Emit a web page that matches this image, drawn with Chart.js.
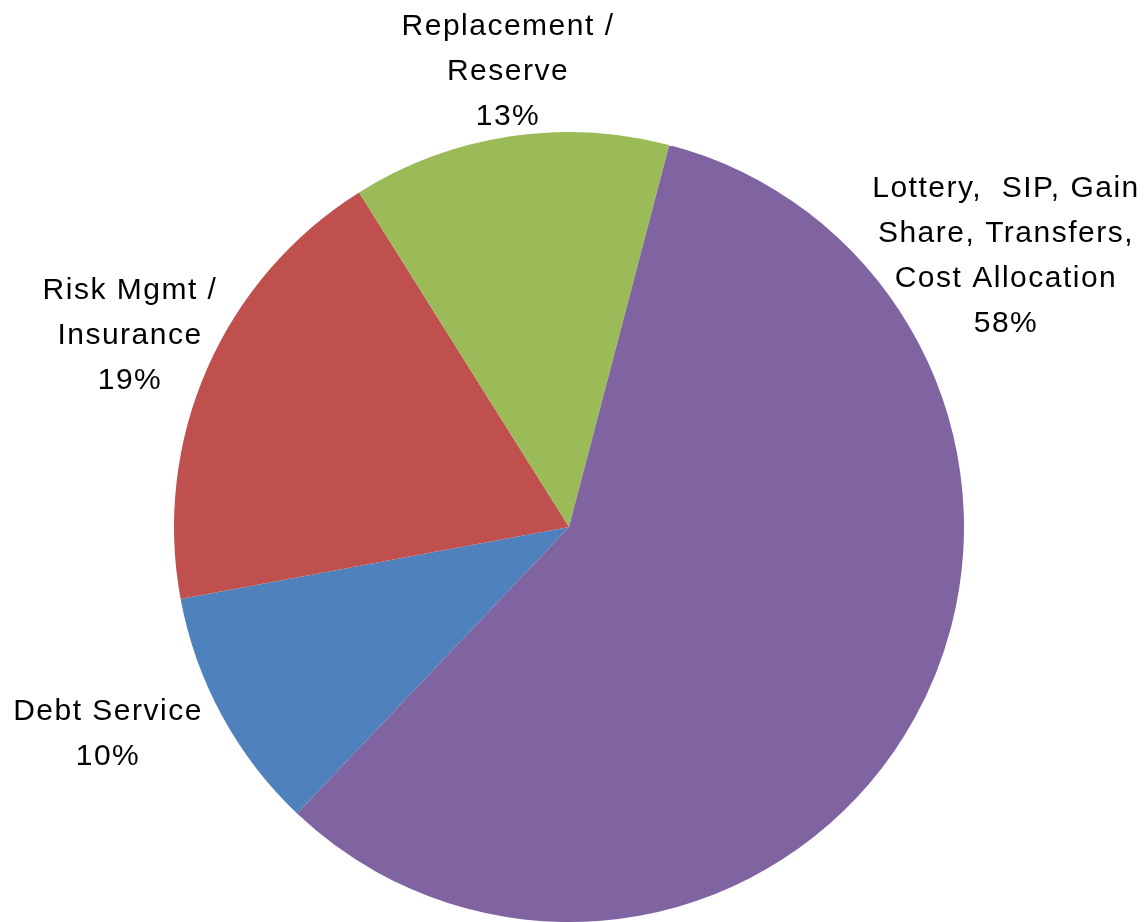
<!DOCTYPE html>
<html>
<head>
<meta charset="utf-8">
<script src="https://cdn.jsdelivr.net/npm/chart.js@4.4.1/dist/chart.umd.min.js"></script>
<style>
  html, body { margin: 0; padding: 0; background: #ffffff; }
  #wrap { width: 1144px; height: 922px; position: relative; }
</style>
</head>
<body>
<div id="wrap"><canvas id="chart" width="1144" height="922"></canvas></div>
<script>
// Budget split by category
const categories = [
  ['Debt Service'],
  ['Risk Mgmt /', 'Insurance'],
  ['Replacement /', 'Reserve'],
  ['Lottery,  SIP, Gain', 'Share, Transfers,', 'Cost Allocation']
];
const shares = [10, 19, 13, 58];
const sliceColors = ['#4F81BD', '#C0504D', '#9BBB59', '#8064A2'];

// Where each label block is centred, and its line spacing
const labelSpots = [
  { x: 108, y: 712 },
  { x: 130, y: 291 },
  { x: 508, y: 27 },
  { x: 1006, y: 189 }
];
const lineGap = 45;

const outsideLabels = {
  id: 'outsideLabels',
  afterDatasetsDraw(chart) {
    const ctx = chart.ctx;
    const data = chart.data.datasets[0].data;
    const total = data.reduce((a, b) => a + b, 0);
    ctx.save();
    ctx.fillStyle = '#000000';
    ctx.font = '30px "Liberation Sans", Arial, sans-serif';
    ctx.textAlign = 'center';
    ctx.textBaseline = 'middle';
    if ('letterSpacing' in ctx) ctx.letterSpacing = '1.5px';
    chart.data.labels.forEach((lines, i) => {
      const pct = Math.round(data[i] / total * 100) + '%';
      const all = lines.concat([pct]);
      const spot = labelSpots[i];
      all.forEach((t, k) => {
        ctx.fillText(t, spot.x, spot.y + k * lineGap);
      });
    });
    ctx.restore();
  }
};

new Chart(document.getElementById('chart'), {
  type: 'pie',
  data: {
    labels: categories,
    datasets: [{
      data: shares,
      backgroundColor: sliceColors,
      borderWidth: 0
    }]
  },
  options: {
    responsive: false,
    animation: false,
    rotation: 223.5,
    layout: { padding: { top: 132, bottom: 0, left: 0, right: 6 } },
    plugins: {
      legend: { display: false },
      tooltip: { enabled: false }
    }
  },
  plugins: [outsideLabels]
});
</script>
</body>
</html>
